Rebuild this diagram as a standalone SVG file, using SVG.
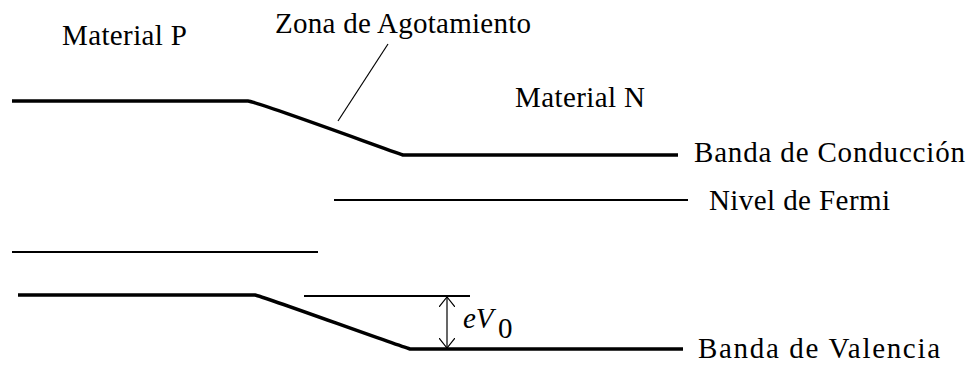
<svg xmlns="http://www.w3.org/2000/svg" width="971" height="366" viewBox="0 0 971 366">
<style>
.band{fill:none;stroke:#000;stroke-width:3.5;stroke-linejoin:round}
.fermi{fill:none;stroke:#000;stroke-width:2}
.thin{fill:none;stroke:#000;stroke-width:1.2}
.lbl{font-family:"Liberation Serif","Times New Roman",serif;font-size:29px;fill:#000}
.math{font-family:"Liberation Serif","Times New Roman",serif;font-size:29px;fill:#000}
</style>
<defs>
<marker id="open" viewBox="0 0 10 16" refX="10" refY="8" markerWidth="10" markerHeight="16" markerUnits="userSpaceOnUse" orient="auto-start-reverse">
<path d="M0,0 L10,8 L0,16" fill="none" stroke="#000" stroke-width="1.2"/>
</marker>
</defs>
<rect width="971" height="366" fill="#fff"/>
<g id="connectors">
<path id="conduction-band" class="band" d="M12,101 H248 C258,102 385,149 403,155 H678"/>
<path id="valence-band" class="band" d="M18,295 H255 C265,297 390,343 410,349 H683"/>
<path id="fermi-n" class="fermi" d="M334,200 H688"/>
<path id="fermi-p" class="fermi" d="M12,252 H318"/>
<path id="ref-line" class="fermi" d="M304,296 H470"/>
<path id="ev0-arrow" class="thin" d="M447,297 V348" marker-start="url(#open)" marker-end="url(#open)"/>
<path id="zone-leader" class="thin" d="M388,44 L338,121"/>
</g>
<g id="label-material-p"><text class="lbl" x="62" y="45" textLength="125" lengthAdjust="spacing">Material P</text></g>
<g id="label-zona"><text class="lbl" x="275" y="33" textLength="256" lengthAdjust="spacing">Zona de Agotamiento</text></g>
<g id="label-material-n"><text class="lbl" x="515" y="107" textLength="130" lengthAdjust="spacing">Material N</text></g>
<g id="label-conduccion"><text class="lbl" x="694" y="162" textLength="271" lengthAdjust="spacing">Banda de Conducción</text></g>
<g id="label-fermi"><text class="lbl" x="709" y="210" textLength="181" lengthAdjust="spacing">Nivel de Fermi</text></g>
<g id="label-valencia"><text class="lbl" x="698" y="358" textLength="242" lengthAdjust="spacing">Banda de Valencia</text></g>
<g id="label-ev0"><text class="math" x="463" y="328" font-style="italic">eV</text><text class="math" x="498" y="338" font-size="23">0</text></g>
</svg>
